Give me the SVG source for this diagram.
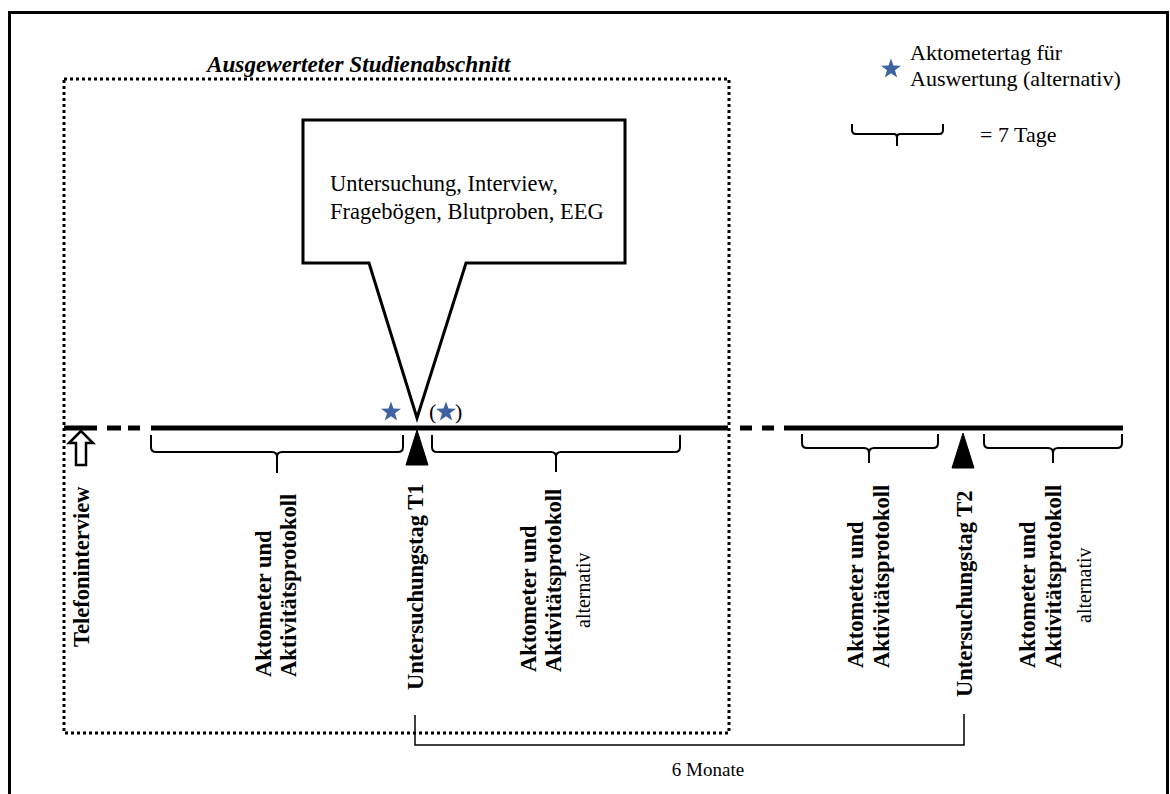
<svg xmlns="http://www.w3.org/2000/svg" width="1170" height="794" viewBox="0 0 1170 794">
<style>
.t{font-family:"Liberation Serif","Times New Roman",serif;fill:#000}
.b{font-weight:bold;font-size:22.5px}
.r{font-size:22px}
.s{font-size:20px}
.brace{fill:none;stroke:#000;stroke-width:2}
.tl{stroke:#000;stroke-width:5;fill:none}
</style>
<defs>
<path id="star" d="M0,-10.5 L2.47,-3.4 L9.99,-3.24 L3.99,1.3 L6.17,8.49 L0,4.2 L-6.17,8.49 L-3.99,1.3 L-9.99,-3.24 L-2.47,-3.4 Z" fill="#3D63A0"/>
</defs>
<rect width="1170" height="794" fill="#fff"/>
<g id="frame">
<rect x="9.5" y="12.5" width="1158" height="800" fill="none" stroke="#000" stroke-width="3"/>
</g>
<g id="study-section">
<rect x="64" y="79" width="665" height="654" fill="none" stroke="#000" stroke-width="3" stroke-dasharray="3,3"/>
<text class="t" font-weight="bold" font-style="italic" font-size="23.2" x="207" y="72">Ausgewerteter Studienabschnitt</text>
</g>
<g id="legend">
<use href="#star" x="891" y="69"/>
<text class="t r" x="910" y="60">Aktometertag für</text>
<text class="t r" x="910" y="86">Auswertung (alternativ)</text>
<path class="brace" d="M852,124 V130 Q852,134 856,134 H894 Q897,134 897,138 V146 M897,138 Q897,134 900,134 H939 Q943,134 943,130 V124"/>
<text class="t r" x="980" y="142">= 7 Tage</text>
</g>
<g id="callout">
<path d="M303,120 H625 V263 H466 L417,418 L369,263 H303 Z" fill="#fff" stroke="#000" stroke-width="3" stroke-linejoin="miter"/>
<text class="t" font-size="22.5" x="330" y="191">Untersuchung, Interview,</text>
<text class="t" font-size="22.5" x="330" y="219">Fragebögen, Blutproben, EEG</text>
</g>
<g id="connectors">
<path class="tl" d="M64,428 H97 M107,428 H121 M128,428 H140 M151,428 H728 M740,428 H752 M762,428 H774 M784,428 H1123"/>
<path class="brace" d="M151,435 V447 Q151,452 156,452 H272 Q277,452 277,457 V473 M277,457 Q277,452 282,452 H398 Q403,452 403,447 V435"/>
<path class="brace" d="M432,435 V447 Q432,452 437,452 H551 Q556,452 556,457 V472 M556,457 Q556,452 561,452 H675 Q680,452 680,447 V435"/>
<path class="brace" d="M802,434 V443 Q802,448 807,448 H864 Q869,448 869,453 V463 M869,453 Q869,448 874,448 H933 Q938,448 938,443 V434"/>
<path class="brace" d="M984,434 V443 Q984,448 989,448 H1048 Q1053,448 1053,453 V463 M1053,453 Q1053,448 1058,448 H1117 Q1122,448 1122,443 V434"/>
<path d="M415,715 V745 H964 V714" fill="none" stroke="#000" stroke-width="1.5"/>
</g>
<g id="telefoninterview">
<path d="M81,431 L69,443 H76 V465 H86 V443 H93 Z" fill="#fff" stroke="#000" stroke-width="2.5" stroke-linejoin="miter"/>
<text class="t b" transform="translate(89,647) rotate(-90)">Telefoninterview</text>
</g>
<g id="aktometer-1">
<text class="t b" transform="translate(271,677) rotate(-90)">Aktometer und</text>
<text class="t b" transform="translate(296,677) rotate(-90)">Aktivitätsprotokoll</text>
</g>
<g id="t1">
<use href="#star" x="391" y="412"/>
<text class="t" font-family="Liberation Sans" font-size="22" x="429" y="419" fill="#222">(</text>
<use href="#star" x="446" y="412"/>
<text class="t" font-family="Liberation Sans" font-size="22" x="455" y="419" fill="#222">)</text>
<path d="M417,430 L406,465 H428 Z" fill="#000" stroke="#000" stroke-width="1" stroke-linejoin="round"/>
<text class="t b" transform="translate(423,690) rotate(-90)">Untersuchungstag T1</text>
</g>
<g id="aktometer-2">
<text class="t b" transform="translate(536,672) rotate(-90)">Aktometer und</text>
<text class="t b" transform="translate(561,672) rotate(-90)">Aktivitätsprotokoll</text>
<text class="t s" transform="translate(590,628) rotate(-90)">alternativ</text>
</g>
<g id="aktometer-3">
<text class="t b" transform="translate(863,668) rotate(-90)">Aktometer und</text>
<text class="t b" transform="translate(889,668) rotate(-90)">Aktivitätsprotokoll</text>
</g>
<g id="t2">
<path d="M963,433 L952,468 H974 Z" fill="#000" stroke="#000" stroke-width="1" stroke-linejoin="round"/>
<text class="t b" transform="translate(972,697) rotate(-90)">Untersuchungstag T2</text>
</g>
<g id="aktometer-4">
<text class="t b" transform="translate(1035,668) rotate(-90)">Aktometer und</text>
<text class="t b" transform="translate(1061,668) rotate(-90)">Aktivitätsprotokoll</text>
<text class="t s" transform="translate(1091,623) rotate(-90)">alternativ</text>
</g>
<g id="duration">
<text class="t" font-size="19" x="708" y="776" text-anchor="middle">6 Monate</text>
</g>
</svg>
